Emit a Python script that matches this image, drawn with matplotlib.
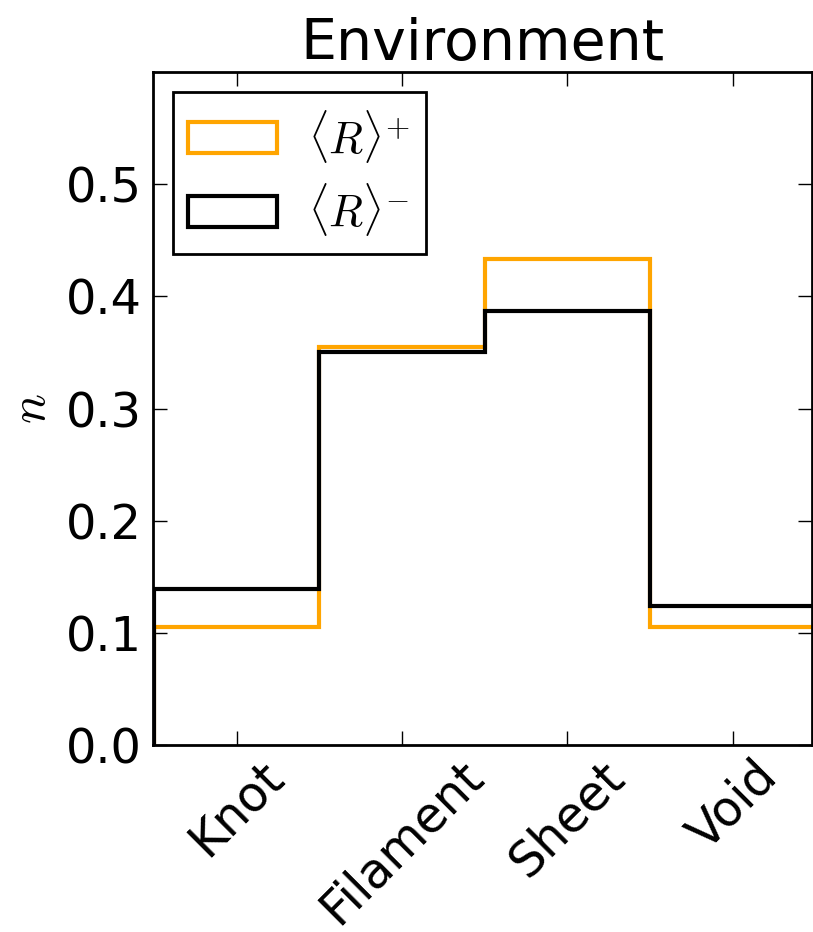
import numpy as np
import matplotlib
matplotlib.use('Agg')
import matplotlib.pyplot as plt

plt.rcParams['mathtext.fontset'] = 'cm'
plt.rcParams['font.family'] = 'DejaVu Sans'
plt.rcParams['xtick.direction'] = 'in'
plt.rcParams['ytick.direction'] = 'in'
plt.rcParams['xtick.top'] = True
plt.rcParams['ytick.right'] = True

# 环境类别和两组归一化计数
envs = ['Knot', 'Filament', 'Sheet', 'Void']
n_plus = [0.105, 0.355, 0.433, 0.105]
n_minus = [0.139, 0.350, 0.387, 0.124]
y_ticks = [0.0, 0.1, 0.2, 0.3, 0.4, 0.5]

x = np.arange(len(envs))
edges = np.arange(len(envs) + 1) - 0.5

fig = plt.figure(figsize=(8.13, 9.32), dpi=100)
ax = fig.add_axes([0.188, 0.2006, 0.8108, 0.7221])

ax.hist(x, bins=edges, weights=n_plus, histtype='step', color='orange',
        lw=3, label=r'$\langle R\rangle^{+}$')
ax.hist(x, bins=edges, weights=n_minus, histtype='step', color='black',
        lw=3, label=r'$\langle R\rangle^{-}$')

ax.set_xlim(-0.507, 3.48)
ax.set_ylim(0, 0.6)
ax.set_xticks(x)
ax.set_xticklabels(envs, rotation=45, fontsize=35)
ax.set_yticks(y_ticks)
ax.set_yticklabels(['%.1f' % v for v in y_ticks], fontsize=34.5)
ax.tick_params(length=10, width=1, pad=8)
ax.tick_params(axis='x', pad=5)
for s in ax.spines.values():
    s.set_linewidth(2)

ax.set_title('Environment', fontsize=41, pad=9)
ax.set_ylabel('$n$', fontsize=36, labelpad=8)

leg = ax.legend(loc='upper left', fontsize=32, fancybox=False,
                borderaxespad=0.45, framealpha=1, labelspacing=0.38,
                borderpad=0.35, handletextpad=0.7)
leg.get_frame().set_edgecolor('black')
leg.get_frame().set_linewidth(2)

fig.savefig('out.png', dpi=100)
